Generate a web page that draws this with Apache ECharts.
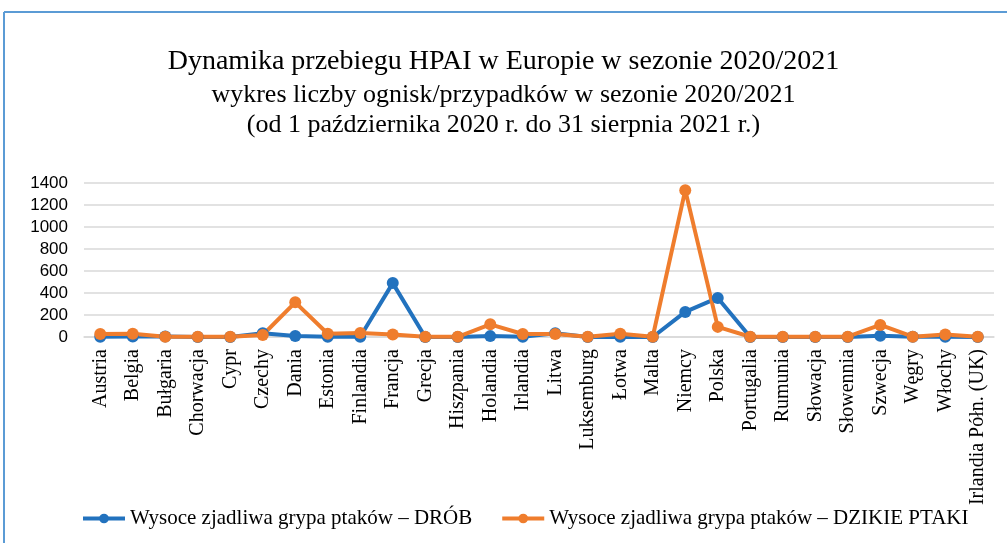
<!DOCTYPE html>
<html><head><meta charset="utf-8">
<script src="https://cdn.jsdelivr.net/npm/echarts@6/dist/echarts.min.js"></script>
<style>html,body{margin:0;padding:0;background:#fff}#c{width:1007px;height:543px}</style>
</head><body><div id="c"></div>
<script>
const categories = ['Austria','Belgia','Bułgaria','Chorwacja','Cypr','Czechy','Dania','Estonia','Finlandia','Francja','Grecja','Hiszpania','Holandia','Irlandia','Litwa','Luksemburg','Łotwa','Malta','Niemcy','Polska','Portugalia','Rumunia','Słowacja','Słowennia','Szwecja','Węgry','Włochy','Irlandia Półn. (UK)'];
const drob   = [2, 5, 5, 0, 0, 35, 10, 2, 3, 490, 0, 0, 8, 3, 35, 0, 2, 0, 228, 355, 0, 0, 0, 0, 12, 3, 2, 0];
const dzikie = [27, 30, 3, 2, 2, 18, 315, 30, 36, 22, 2, 2, 115, 27, 28, 3, 30, 2, 1335, 92, 2, 3, 2, 3, 110, 3, 22, 2];
const yTicks = {min: 0, max: 1400, interval: 200};
const seriesNames = ['Wysoce zjadliwa grypa ptaków – DRÓB', 'Wysoce zjadliwa grypa ptaków – DZIKIE PTAKI'];

const chart = echarts.init(document.getElementById('c'), null, {renderer: 'canvas'});
const serif = '"Liberation Serif", "DejaVu Serif", serif';
chart.setOption({
  backgroundColor: '#fff',
  animation: false,
  title: {
    text: 'Dynamika przebiegu HPAI w Europie w sezonie 2020/2021',
    subtext: 'wykres liczby ognisk/przypadków w sezonie 2020/2021\n(od 1 października 2020 r. do 31 sierpnia 2021 r.)',
    left: 'center', top: 43, itemGap: 4,
    textStyle: {fontFamily: serif, fontSize: 28, fontWeight: 'normal', color: '#000'},
    subtextStyle: {fontFamily: serif, fontSize: 26, color: '#000', lineHeight: 30}
  },
  graphic: [
    {type: 'line', shape: {x1: 4, y1: 12, x2: 1007, y2: 12}, style: {stroke: '#5b9bd5', lineWidth: 2}},
    {type: 'line', shape: {x1: 4, y1: 12, x2: 4, y2: 543}, style: {stroke: '#5b9bd5', lineWidth: 2}}
  ],
  legend: {
    bottom: 9, left: 76, itemWidth: 42, itemHeight: 12, itemGap: 28,
    lineStyle: {width: 4},
    textStyle: {fontFamily: serif, fontSize: 21, color: '#000'},
    data: seriesNames
  },
  grid: {left: 84, right: 13, top: 183, height: 154, containLabel: false},
  xAxis: {
    type: 'category', data: categories, boundaryGap: true,
    axisLine: {show: true, lineStyle: {color: '#d9d9d9', width: 1.5}},
    axisTick: {show: false},
    axisLabel: {rotate: 90, interval: 0, fontFamily: serif, fontSize: 20, color: '#000', margin: 12}
  },
  yAxis: {
    type: 'value', min: yTicks.min, max: yTicks.max, interval: yTicks.interval,
    axisLine: {show: false}, axisTick: {show: false},
    axisLabel: {fontFamily: '"Liberation Sans", Arial, sans-serif', fontSize: 17, color: '#000', margin: 16,
                formatter: v => String(v)},
    splitLine: {lineStyle: {color: '#d9d9d9', width: 1.5}}
  },
  series: [
    {name: seriesNames[0], type: 'line', data: drob, color: '#2272be',
     lineStyle: {width: 4}, symbol: 'circle', symbolSize: 12, itemStyle: {color: '#2272be'}},
    {name: seriesNames[1], type: 'line', data: dzikie, color: '#ef7d2d',
     lineStyle: {width: 4}, symbol: 'circle', symbolSize: 12, itemStyle: {color: '#ef7d2d'}}
  ]
});
</script></body></html>
